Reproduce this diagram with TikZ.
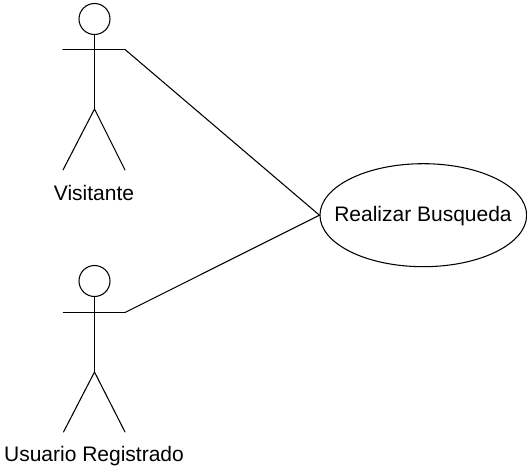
\documentclass[tikz,border=0pt]{standalone}
\usepackage{fontspec}
\setmainfont{Liberation Sans}
\usetikzlibrary{shapes.geometric}
\tikzset{
  stroke/.style={draw=black,line width=0.8pt,line cap=round,line join=round},
  head/.style={circle,stroke,minimum size=23.25pt,inner sep=0pt},
  usecase/.style={ellipse,stroke,minimum width=155pt,minimum height=77.25pt,inner sep=0pt},
  lbl/.style={font=\fontsize{15.75pt}{18pt}\selectfont,text=black,inner sep=0pt,anchor=base}
}
\begin{document}
\begin{tikzpicture}[x=0.75pt,y=-0.75pt]
\useasboundingbox (0,0) rectangle (527,470);
\node[head] (h1) at (94.5,19) {};
\coordinate (al1) at (63,49.5);
\coordinate (ar1) at (125,49.5);
\coordinate (c1) at (94.5,109);
\coordinate (fl1) at (63,170);
\coordinate (fr1) at (125,170);
\draw[stroke] (h1) -- (c1);
\draw[stroke] (al1) -- (ar1);
\draw[stroke] (fl1) -- (c1) -- (fr1);
\node[lbl] (t1) at (94,200) {Visitante};
\node[head] (h2) at (94.5,281) {};
\coordinate (al2) at (63.5,312.5);
\coordinate (ar2) at (125,312.5);
\coordinate (c2) at (94.5,372);
\coordinate (fl2) at (63.5,432);
\coordinate (fr2) at (125,432);
\draw[stroke] (h2) -- (c2);
\draw[stroke] (al2) -- (ar2);
\draw[stroke] (fl2) -- (c2) -- (fr2);
\node[lbl] (t2) at (94,461.5) {Usuario Registrado};
\node[usecase] (uc) at (423.3,215.2) {};
\node[lbl] (ut) at (423,221.7) {Realizar Busqueda};
\draw[stroke] (ar1) -- (uc.west);
\draw[stroke] (ar2) -- (uc.west);
\end{tikzpicture}
\end{document}
